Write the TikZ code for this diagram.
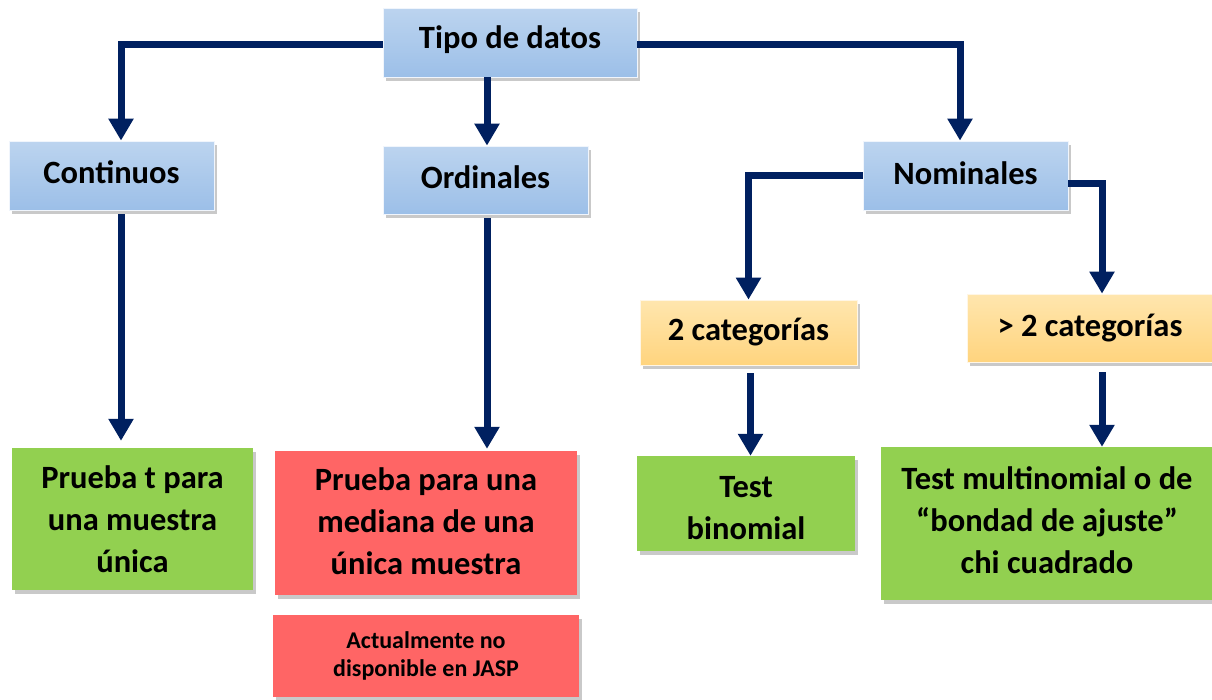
\documentclass[tikz,border=0pt]{standalone}
\usepackage{fontspec}
\setmainfont{Carlito}
\usetikzlibrary{arrows.meta,shadows}
\definecolor{navy}{HTML}{002060}
\definecolor{bluetop}{HTML}{BCD4EF}
\definecolor{bluebot}{HTML}{9CBFE8}
\definecolor{orangetop}{HTML}{FFE6AE}
\definecolor{orangebot}{HTML}{FFD47E}
\definecolor{greenbox}{HTML}{92D050}
\definecolor{redbox}{HTML}{FF6565}
\newcommand{\shiftup}[2]{\raisebox{#1}[\height][\depth]{#2}}
\tikzset{
  box/.style={rectangle, inner sep=0pt, align=center, font=\bfseries\fontsize{32.5}{42}\selectfont,
    drop shadow={shadow xshift=3pt, shadow yshift=-4pt, opacity=0.3, fill=black!70}},
  bluebox/.style={box, top color=bluetop, bottom color=bluebot, draw=white!85!bluebot, line width=0.8pt},
  orangebox/.style={box, top color=orangetop, bottom color=orangebot, draw=white!80!orangebot, line width=0.8pt},
  greenb/.style={box, fill=greenbox},
  redb/.style={box, fill=redbox},
  conn/.style={draw=navy, line width=7pt, -{Triangle[width=24pt,length=22pt]}},
}
\begin{document}
\begin{tikzpicture}[x=1pt,y=-1pt]
\useasboundingbox (0,0) rectangle (1212,699);
% level 1
\node[bluebox, minimum width=254pt, minimum height=69pt] (tipo) at (510,42.5) {\shiftup{3pt}{Tipo de datos}};
% level 2
\node[bluebox, minimum width=205pt, minimum height=69pt] (cont) at (111.5,175.5) {\shiftup{3pt}{Continuos}};
\node[bluebox, minimum width=205pt, minimum height=68pt] (ord) at (485.5,180) {\shiftup{3pt}{Ordinales}};
\node[bluebox, minimum width=205pt, minimum height=69pt] (nom) at (965.5,175.5) {\shiftup{2.5pt}{Nominales}};
% level 3
\node[orangebox, minimum width=217pt, minimum height=65pt] (cat2) at (748.5,332.5) {2 categorías};
\node[orangebox, minimum width=246pt, minimum height=68pt] (cat3) at (1090,328) {> 2 categorías};
% leaves
\node[greenb, minimum width=241pt, minimum height=142pt] (pt) at (132.5,519) {Prueba t para\\una muestra\\única};
\node[redb, minimum width=302pt, minimum height=144pt] (med) at (426,523) {\shiftup{-1.5pt}{\begin{tabular}{@{}c@{}}Prueba para una\\mediana de una\\única muestra\end{tabular}}};
\node[redb, minimum width=306pt, minimum height=82pt, font=\bfseries\fontsize{24}{28}\selectfont] (act) at (426,656) {Actualmente no\\disponible en JASP};
\node[greenb, minimum width=218pt, minimum height=95pt] (bin) at (746,503.5) {\shiftup{-7pt}{\begin{tabular}{@{}c@{}}Test\\binomial\end{tabular}}};
\node[greenb, minimum width=332pt, minimum height=153pt] (mult) at (1047,523.5) {\shiftup{0pt}{\begin{tabular}{@{}c@{}}Test multinomial o de\\“bondad de ajuste”\\chi cuadrado\end{tabular}}};
% connectors
\draw[conn] ([yshift=-1.5pt]tipo.west) -| ([xshift=9.5pt]cont.north);
\draw[conn] ([xshift=-23pt]tipo.south) -- ([xshift=-23pt]tipo.south |- ord.north);
\draw[conn] ([yshift=-1.5pt]tipo.east) -| ([xshift=-5.5pt]nom.north);
\draw[conn, shorten <=4pt, shorten >=7pt] ([xshift=9.5pt]cont.south) -- ([xshift=9.5pt]cont.south |- pt.north);
\draw[conn, shorten <=4pt, shorten >=2pt] ([xshift=1.5pt]ord.south) -- ([xshift=1.5pt]ord.south |- med.north);
\draw[conn] (nom.west) -| (cat2.north);
\draw[conn] ([yshift=-7.5pt]nom.east) -| ([xshift=12pt]cat3.north);
\draw[conn, shorten <=8pt] ([xshift=2pt]cat2.south) -- ([xshift=2pt]cat2.south |- bin.north);
\draw[conn, shorten <=10pt] ([xshift=12pt]cat3.south) -- ([xshift=12pt]cat3.south |- mult.north);
\end{tikzpicture}
\end{document}
